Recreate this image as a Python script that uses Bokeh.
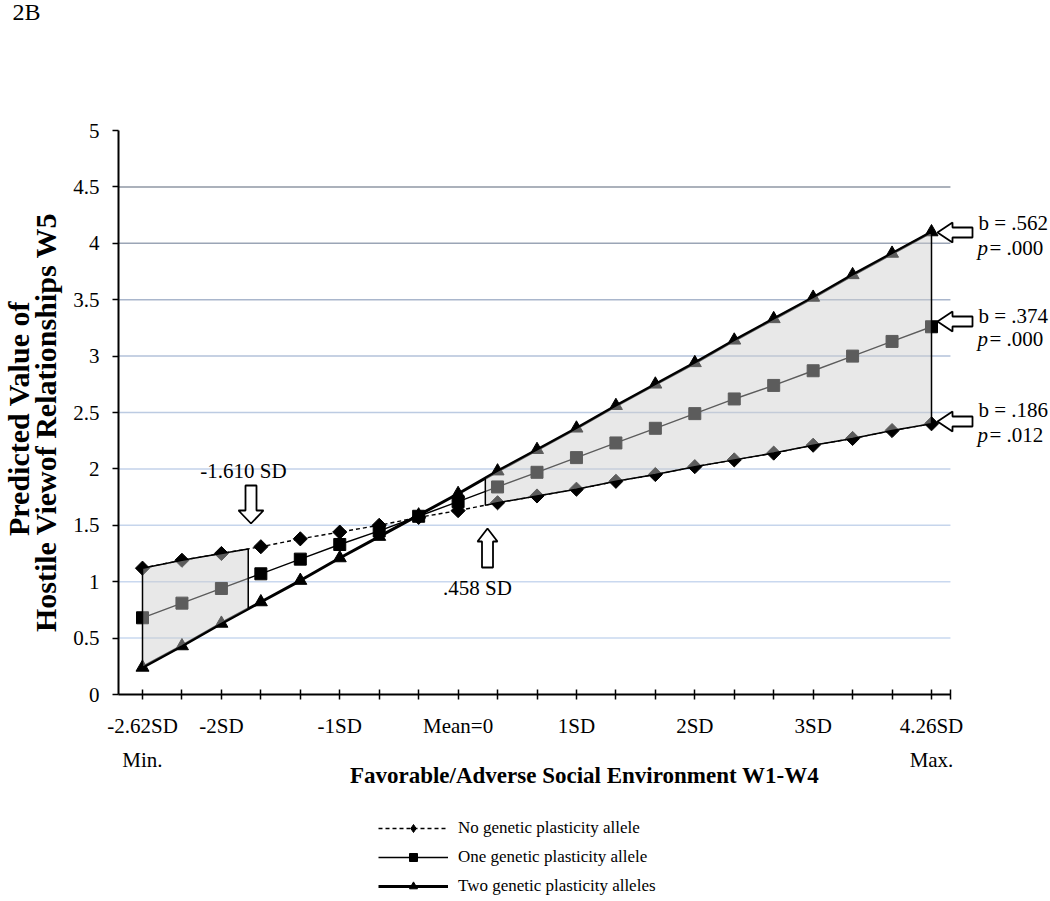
import numpy as np
from bokeh.plotting import figure
from bokeh.layouts import column, row
from bokeh.models import (Range1d, FixedTicker, Label, PolyAnnotation,
                          Legend, LegendItem)
from bokeh.embed import file_html
from bokeh.resources import INLINE

# ---------------- data ----------------
x_index = list(range(21))
x_tick_labels = {0: "-2.62SD\nMin.", 2: "-2SD", 5: "-1SD", 8: "Mean=0",
                 11: "1SD", 14: "2SD", 17: "3SD", 20: "4.26SD\nMax."}
no_allele = [1.12, 1.19, 1.25, 1.31, 1.38, 1.44, 1.50, 1.57, 1.63, 1.70, 1.76,
             1.82, 1.89, 1.95, 2.02, 2.08, 2.14, 2.21, 2.27, 2.34, 2.40]
one_allele = [0.68, 0.81, 0.94, 1.07, 1.20, 1.33, 1.45, 1.58, 1.71, 1.84, 1.97,
              2.10, 2.23, 2.36, 2.49, 2.62, 2.74, 2.87, 3.00, 3.13, 3.26]
two_alleles = [0.24, 0.43, 0.63, 0.82, 1.01, 1.21, 1.40, 1.59, 1.78, 1.98, 2.17,
               2.36, 2.56, 2.75, 2.94, 3.14, 3.33, 3.52, 3.72, 3.91, 4.10]
series_names = ["No genetic plasticity allele", "One genetic plasticity allele",
                "Two genetic plasticity alleles"]
y_ticks = [0, 0.5, 1, 1.5, 2, 2.5, 3, 3.5, 4, 4.5, 5]
grid_levels = [0.5, 1, 1.5, 2, 2.5, 3, 3.5, 4, 4.5]
grid_colors = ["#c9d8ef", "#c9d8ef", "#c6d5ec", "#c3d2ea", "#bccbe2",
               "#b3c2da", "#a9b6cc", "#9ba5b6", "#8f97a4"]
jn_low = 2.68    # region of significance edge at -1.610 SD
jn_high = 8.69   # region of significance edge at .458 SD
jn_texts = ["-1.610 SD", ".458 SD"]
slope_b = ["b = .562", "b = .374", "b = .186"]
slope_p = ["= .000", "= .000", "= .012"]
y_title = ["Predicted Value of", "Hostile Viewof Relationships  W5"]
x_title = "Favorable/Adverse Social Environment W1-W4"
panel_tag = "2B"

# ---------------- layout (page pixels -> data) ----------------
W, H1, H2 = 1050, 800, 100
LW = 68                        # strip on the left holding the y title
FL, FB = 118, 694              # frame left, frame bottom (y = 0 line), page px
PXX, PXY = 39.45, 112.8        # pixels per category step / per y unit
X_START = -(142 - FL) / PXX
X_AXIS_END = 20.48
X_END = X_START + (W - FL) / PXX
Y_END = FB / PXY
SERIF = "Liberation Serif"


def dx(px):
    return (px - FL) / PXX + X_START


def dy(py):
    return (FB - py) / PXY


# ---------------- left strip: panel tag and y title ----------------
t = figure(frame_width=LW, frame_height=H1, min_border=0,
           x_range=Range1d(0, LW), y_range=Range1d(H1, 0),
           output_backend="svg", toolbar_location=None,
           background_fill_color="white", border_fill_color="white")
t.axis.visible = False
t.grid.visible = False
t.outline_line_color = None
t.add_layout(Label(x=12, y=11, text=panel_tag, text_font=SERIF, text_font_size="24px",
                   text_align="left", text_baseline="middle", text_color="black"))
for txt, cx in zip(y_title, [18, 45]):
    t.add_layout(Label(x=cx, y=418, text=txt, text_font=SERIF, text_font_size="30px",
                       text_font_style="bold", text_align="center",
                       text_baseline="middle", angle=np.pi / 2, text_color="black"))

# ---------------- main chart ----------------
p = figure(frame_width=W - FL, frame_height=FB, min_border_left=FL - LW,
           min_border_right=0, min_border_top=0, min_border_bottom=H1 - FB,
           x_range=Range1d(X_START, X_END), y_range=Range1d(0, Y_END),
           output_backend="svg", toolbar_location=None,
           background_fill_color="white", border_fill_color="white")
p.outline_line_color = None
p.xgrid.visible = False
p.ygrid.visible = False

# horizontal gridlines
p.segment(x0=[X_START] * len(grid_levels), x1=[X_AXIS_END] * len(grid_levels),
          y0=grid_levels, y1=grid_levels, line_color=grid_colors, line_width=1.5,
          level="underlay")

xa = p.xaxis[0]
xa.bounds = (X_START, X_AXIS_END)
xa.ticker = FixedTicker(ticks=x_index + [X_AXIS_END])
ov = {i: x_tick_labels.get(i, "") for i in x_index}
ov[X_AXIS_END] = ""
xa.major_label_overrides = ov
xa.major_tick_in = 5
xa.major_tick_out = 5
xa.minor_tick_line_color = None
xa.axis_line_width = 2
xa.major_tick_line_width = 1.5
xa.major_label_standoff = 14
xa.major_label_text_font = SERIF
xa.major_label_text_font_size = "21px"
xa.major_label_text_line_height = 1.45
xa.major_label_text_color = "black"
xa.axis_label = x_title
xa.axis_label_text_font = SERIF
xa.axis_label_text_font_size = "23px"
xa.axis_label_text_font_style = "bold"
xa.axis_label_text_color = "black"
xa.axis_label_standoff = -12

ya = p.yaxis[0]
ya.bounds = (0, 5)
ya.ticker = FixedTicker(ticks=y_ticks)
ya.major_label_overrides = {v: f"{v:g}" for v in y_ticks}
ya.major_tick_in = 0
ya.major_tick_out = 6
ya.minor_tick_line_color = None
ya.axis_line_width = 2
ya.major_tick_line_width = 1.5
ya.major_label_standoff = 13
ya.major_label_text_font = SERIF
ya.major_label_text_font_size = "21px"
ya.major_label_text_color = "black"

# series
styles = [dict(line_width=1.4, line_dash="4 3"), dict(line_width=1.4), dict(line_width=3)]
markers = [dict(marker="square", angle=np.pi / 4, size=10),
           dict(marker="square", size=12), dict(marker="triangle", size=13)]
series = [no_allele, one_allele, two_alleles]
for vals, st, mk in zip(series, styles, markers):
    p.line(x_index, vals, line_color="black", **st)
    p.scatter(x_index, vals, color="black", **mk)

# shaded regions of significance
xs = np.array(x_index, dtype=float)
a_no = np.array(no_allele)
a_two = np.array(two_alleles)


def region(lo, hi, top, bottom):
    inner = xs[(xs > lo) & (xs < hi)]
    px_ = np.concatenate([[lo], inner, [hi]])
    top_y = np.interp(px_, xs, top)
    bot_y = np.interp(px_, xs, bottom)
    return list(px_) + list(px_[::-1]), list(top_y) + list(bot_y[::-1])


for lo, hi, top, bot in [(xs[0], jn_low, a_no, a_two), (jn_high, xs[-1], a_two, a_no)]:
    rx, ry = region(lo, hi, top, bot)
    p.patch(rx, ry, fill_color="#cdcdcd", fill_alpha=0.45,
            line_color="black", line_width=1.5)


# hollow block arrows
def poly(pts):
    p.add_layout(PolyAnnotation(xs=[dx(a) for a, b in pts], ys=[dy(b) for a, b in pts],
                                xs_units="data", ys_units="data",
                                fill_color="white", fill_alpha=1.0,
                                line_color="black", line_alpha=1.0,
                                line_width=1.8, level="overlay"))


poly([(245, 485), (256, 485), (256, 510), (263, 510), (250.5, 523), (238, 510), (245, 510)])
poly([(481.5, 567), (492.5, 567), (492.5, 541), (497, 541), (487, 528), (477, 541), (481.5, 541)])
for ty in [232, 321, 421]:
    poly([(972, ty - 5), (952, ty - 5), (952, ty - 10), (937, ty),
          (952, ty + 10), (952, ty + 5), (972, ty + 5)])


def lab(text, px, py, size="21px", align="center", style="normal"):
    p.add_layout(Label(x=dx(px), y=dy(py), text=text, text_font=SERIF,
                       text_font_size=size, text_align=align, text_baseline="middle",
                       text_font_style=style, text_color="black"))


lab(jn_texts[0], 243, 470)
lab(jn_texts[1], 477, 587)
for (bt, pt), (yb, yp) in zip(zip(slope_b, slope_p), [(222, 247), (315, 338), (409, 434)]):
    lab(bt, 978, yb, align="left")
    lab("p", 977, yp, align="left", style="italic")
    lab(pt, 989, yp, align="left")

# ---------------- legend strip below the chart ----------------
q = figure(frame_width=W, frame_height=H2, min_border=0,
           x_range=Range1d(100, 101), y_range=Range1d(100, 101),
           output_backend="svg", toolbar_location=None,
           background_fill_color="white", border_fill_color="white")
q.axis.visible = False
q.grid.visible = False
q.outline_line_color = None
legend_markers = [dict(marker="diamond", size=13), dict(marker="square", size=11),
                  dict(marker="triangle", size=12)]
items = []
for name, vals, st, mk in zip(series_names, series, styles, legend_markers):
    lr = q.line(x_index, vals, line_color="black", **st)
    sr = q.scatter(x_index, vals, color="black", **mk)
    items.append(LegendItem(label=name, renderers=[lr, sr]))
legend = Legend(items=items, location=(378, 4), glyph_width=70, glyph_height=20,
                spacing=9, padding=0, margin=0, label_standoff=10, label_height=20,
                label_text_font=SERIF, label_text_font_size="17px",
                label_text_color="black",
                border_line_color=None, background_fill_alpha=0)
q.add_layout(legend)

layout = column(row(t, p, spacing=0), q, spacing=0)
open("out.html", "w").write(file_html(layout, INLINE))
